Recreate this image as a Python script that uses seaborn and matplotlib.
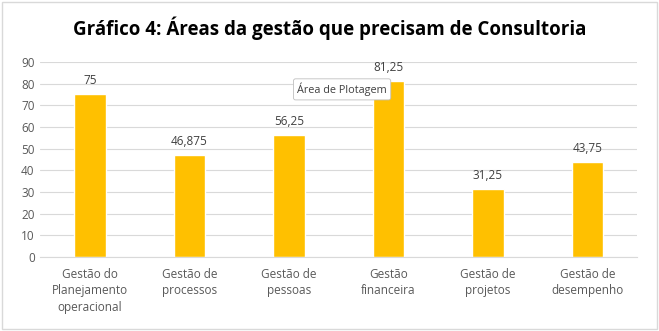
import matplotlib
matplotlib.use("Agg")
import matplotlib.pyplot as plt
import seaborn as sns
import pandas as pd
from matplotlib.patches import Rectangle

categories = ["Gestão do\nPlanejamento\noperacional", "Gestão de\nprocessos", "Gestão de\npessoas",
              "Gestão\nfinanceira", "Gestão de\nprojetos", "Gestão de\ndesempenho"]
values = [75, 46.875, 56.25, 81.25, 31.25, 43.75]
value_labels = ["75", "46,875", "56,25", "81,25", "31,25", "43,75"]
yticks = [0, 10, 20, 30, 40, 50, 60, 70, 80, 90]

sns.set_theme(style="white")
plt.rcParams['font.family'] = ['Open Sans', 'DejaVu Sans']

df = pd.DataFrame({"cat": categories, "val": values})

fig = plt.figure(figsize=(6.59, 3.31), dpi=100)
ax = fig.add_axes([0.061, 0.224, 0.906, 0.589])
sns.barplot(data=df, x="cat", y="val", color="#FFC000", width=0.32, ax=ax, saturation=1)

ax.set_ylim(0, 90)
ax.set_yticks(yticks)
ax.yaxis.grid(True, color="#D9D9D9", linewidth=0.8)
ax.set_axisbelow(True)
for s in ["top", "right", "left"]:
    ax.spines[s].set_visible(False)
ax.spines["bottom"].set_color("#D9D9D9")
ax.spines["bottom"].set_linewidth(0.8)
ax.set_xlabel("")
ax.set_ylabel("")
ax.tick_params(axis="both", length=0, labelsize=8.5, labelcolor="#595959", pad=4)
ax.tick_params(axis="x", pad=8)
for lab in ax.get_xticklabels():
    lab.set_linespacing(1.35)

for i, (v, t) in enumerate(zip(values, value_labels)):
    ax.annotate(t, (i, v), xytext=(0, 5), textcoords="offset points",
                ha="center", va="bottom", fontsize=8.5, color="#404040")

fig.text(0.5, 0.915, "Gráfico 4: Áreas da gestão que precisam de Consultoria",
         ha="center", va="center", fontsize=13.5, fontweight="bold", color="#000000")

# tooltip
fig.text(0.451, 0.73, "Área de Plotagem", ha="left", va="center", fontsize=7.8, color="#404040",
         bbox=dict(boxstyle="round,pad=0.35,rounding_size=0.2", fc="white", ec="#BFBFBF", lw=0.6))

fig.patches.append(Rectangle((0.003, 0.006), 0.994, 0.988, transform=fig.transFigure,
                             fill=False, ec="#D9D9D9", lw=1))
fig.savefig("out.png", dpi=100)
